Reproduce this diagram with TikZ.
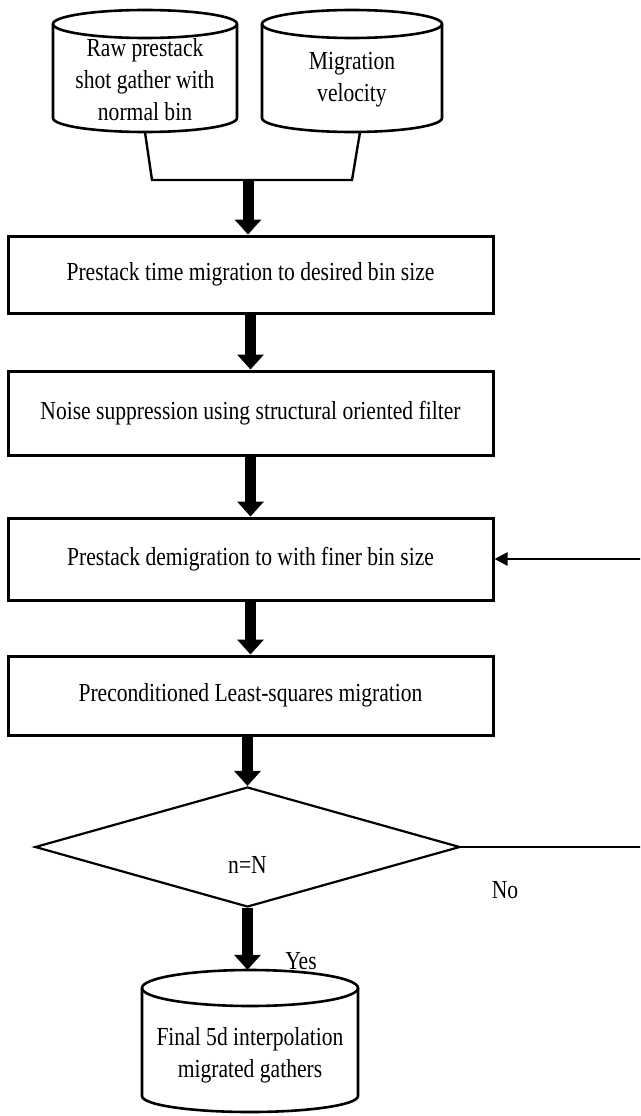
\documentclass[tikz,border=0pt]{standalone}
\usepackage{fontspec}
\setmainfont{Liberation Serif}[FakeStretch=0.83]
\usetikzlibrary{arrows.meta,shapes.geometric}
\begin{document}
\begin{tikzpicture}[x=1pt,y=1pt,
  every node/.style={font=\fontsize{26}{32}\selectfont, inner sep=0pt},
  stepbox/.style={draw, line width=3pt, minimum width=485pt, align=center},
  cyl/.style={line width=2.6pt},
  conn/.style={line width=2.4pt},
  bigarrow/.style={line width=11pt, -{Triangle[width=26pt,length=15pt]}},
  backarrow/.style={line width=2.4pt, -{Triangle[width=13pt,length=13pt]}},
  cyltext/.style={align=center}
]
\useasboundingbox (0,0) rectangle (640,-1116);
\clip (0,0) rectangle (640,-1116);

% input cylinders
\draw[cyl] (145,-24) ellipse [x radius=92, y radius=14];
\draw[cyl] (53,-24) -- (53,-118) arc[start angle=180, end angle=360, x radius=92, y radius=14] -- (237,-24);
\node[cyltext, minimum height=104pt] (c1) at (145,-80) {Raw prestack\\shot gather with\\normal bin};

\draw[cyl] (352,-24) ellipse [x radius=90, y radius=14];
\draw[cyl] (262,-24) -- (262,-118) arc[start angle=180, end angle=360, x radius=90, y radius=14] -- (442,-24);
\node[cyltext, minimum height=104pt] (c2) at (352,-80) {Migration\\velocity};

% joining lines
\coordinate (j1) at (152,-180);
\coordinate (j2) at (352,-180);
\coordinate (jm) at (248,-180);
\draw[conn] (c1.south) -- (j1) -- (j2) -- ([xshift=8pt]c2.south);

% process boxes
\node[stepbox, minimum height=77pt] (b1) at (250.5,-274.5) {Prestack time migration to desired bin size};
\node[stepbox, minimum height=84pt] (b2) at (250.5,-413) {Noise suppression using structural oriented filter};
\node[stepbox, minimum height=82pt] (b3) at (250.5,-559) {Prestack demigration to with finer bin size};
\node[stepbox, minimum height=79pt] (b4) at (250.5,-695.5) {Preconditioned Least-squares migration};

% decision
\node[diamond, draw, line width=2.2pt, minimum width=425pt, minimum height=120pt, aspect=3.54] (d) at (247.5,-847) {};
\node (dt) at (247.5,-865) {n=N};

% final cylinder
\draw[cyl] (250,-988) ellipse [x radius=108, y radius=18];
\draw[cyl] (142,-988) -- (142,-1096) arc[start angle=180, end angle=360, x radius=108, y radius=16] -- (358,-988);
\node[cyltext, minimum height=170pt] (f) at (250,-1055) {Final 5d interpolation\\migrated gathers};

% thick arrows
\draw[bigarrow] (jm) -- (jm |- b1.north);
\draw[bigarrow] (b1.south) -- (b2.north);
\draw[bigarrow] (b2.south) -- (b3.north);
\draw[bigarrow] (b3.south) -- (b4.north);
\draw[bigarrow] (b4.south -| d.north) -- (d.north);
\draw[bigarrow] (d.south) -- (d.south |- f.north);

% loop back
\draw[backarrow] (d.east) -- (660,-847) |- (b3.east);

% labels
\node (yes) at (301,-961) {Yes};
\node (no) at (505,-890) {No};
\end{tikzpicture}
\end{document}
